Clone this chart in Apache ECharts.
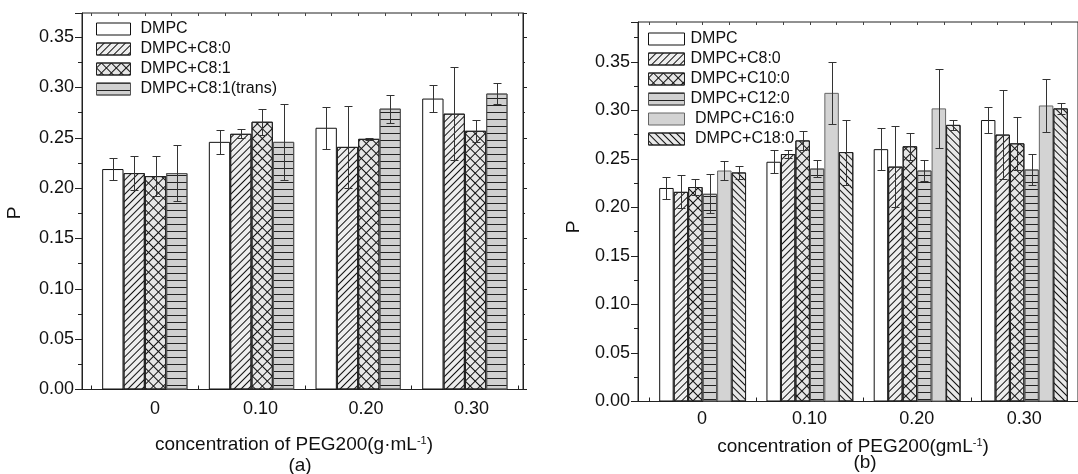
<!DOCTYPE html>
<html><head><meta charset="utf-8">
<script src="https://cdn.jsdelivr.net/npm/echarts@6/dist/echarts.min.js"></script>
<style>html,body{margin:0;padding:0;background:#fff}#c{width:1078px;height:474px}</style>
</head><body><div id="c"></div><script>
// ---------- data ----------
const categories = ['0', '0.10', '0.20', '0.30'];
const yTickStep = 0.05;

// panel (a)
const namesA = ['DMPC', 'DMPC+C8:0', 'DMPC+C8:1', 'DMPC+C8:1(trans)'];
const aDMPC      = [0.219, 0.246, 0.260, 0.289];
const aDMPCErr   = [0.011, 0.012, 0.021, 0.013];
const aC80       = [0.215, 0.254, 0.241, 0.274];
const aC80Err    = [0.017, 0.0045, 0.041, 0.046];
const aC81       = [0.212, 0.266, 0.249, 0.257];
const aC81Err    = [0.020, 0.013, 0.001, 0.011];
const aTrans     = [0.215, 0.246, 0.279, 0.294];
const aTransErr  = [0.028, 0.038, 0.014, 0.0105];

// panel (b)
const namesB = ['DMPC', 'DMPC+C8:0', 'DMPC+C10:0', 'DMPC+C12:0', ' DMPC+C16:0', ' DMPC+C18:0'];
const bDMPC      = [0.220, 0.247, 0.260, 0.290];
const bDMPCErr   = [0.011, 0.012, 0.022, 0.013];
const bC80       = [0.216, 0.255, 0.242, 0.275];
const bC80Err    = [0.017, 0.004, 0.042, 0.046];
const bC100      = [0.221, 0.269, 0.263, 0.266];
const bC100Err   = [0.0085, 0.010, 0.014, 0.027];
const bC120      = [0.214, 0.240, 0.238, 0.239];
const bC120Err   = [0.020, 0.009, 0.0105, 0.0155];
const bC160      = [0.238, 0.318, 0.302, 0.305];
const bC160Err   = [0.010, 0.032, 0.041, 0.0275];
const bC180      = [0.236, 0.257, 0.285, 0.302];
const bC180Err   = [0.0065, 0.0335, 0.0055, 0.006];

// ---------- styles ----------
const FONT = 'Liberation Sans, Arial, sans-serif';
const stWhite = {color: '#ffffff', borderColor: '#111', borderWidth: 1};
const stSlash = {color: '#eeeeee', borderColor: '#222', borderWidth: 1,
  decal: {symbol: 'rect', dashArrayX: [1, 0], dashArrayY: [1, 4], rotation: -Math.PI / 4, color: '#111'}};
const stBack = {color: '#e8e8e8', borderColor: '#222', borderWidth: 1,
  decal: {symbol: 'rect', dashArrayX: [1, 0], dashArrayY: [1, 4], rotation: Math.PI / 4, color: '#111'}};
const stCross = {color: '#e6e6e6', borderColor: '#222', borderWidth: 1,
  decal: {symbol: 'path://M3,0h1v3h3v1h-3v3h-1v-3h-3v-1h3z', symbolSize: 1, dashArrayX: [7, 0], dashArrayY: [7, 0], rotation: Math.PI / 4, color: '#111'}};
const stHoriz = {color: '#d0d0d0', borderColor: '#555', borderWidth: 1,
  decal: {symbol: 'rect', dashArrayX: [1, 0], dashArrayY: [1, 6], color: '#222'}};
const stGray = {color: '#d3d3d3', borderColor: '#666', borderWidth: 1};

const stylesA = [stWhite, stSlash, stCross, stHoriz];
const stylesB = [stWhite, stSlash, stCross, stHoriz, stGray, stBack];
const valsA = [aDMPC, aC80, aC81, aTrans];
const errsA = [aDMPCErr, aC80Err, aC81Err, aTransErr];
const valsB = [bDMPC, bC80, bC100, bC120, bC160, bC180];
const errsB = [bDMPCErr, bC80Err, bC100Err, bC120Err, bC160Err, bC180Err];

// ---------- layout ----------
const gapA = 0.2, gapB = 0.19;
const grids = [
  {left: 82, top: 13, width: 441, height: 376.5, show: true, borderColor: '#222', borderWidth: 1, backgroundColor: 'rgba(0,0,0,0)'},
  {left: 91.5, top: 13, width: 426.7, height: 376.5},
  {left: 102.25, top: 13, width: 422, height: 376.5},
  {left: 638, top: 22, width: 460, height: 379.5, show: true, borderColor: '#222', borderWidth: 1, backgroundColor: 'rgba(0,0,0,0)'},
  {left: 649, top: 22, width: 430, height: 379.5},
  {left: 648.3, top: 22, width: 459, height: 379.5}
];
const maxA = 0.374, maxB = 0.391;

function yLabelAxis(gi, max) {
  return {type: 'value', gridIndex: gi, min: 0, max: max, interval: yTickStep,
    axisLine: {show: true, lineStyle: {color: '#222'}},
    axisTick: {show: true, inside: false, length: 7, lineStyle: {color: '#222'}},
    minorTick: {show: true, splitNumber: 2, length: 4, lineStyle: {color: '#222'}},
    splitLine: {show: false},
    axisLabel: {show: true, margin: 8, fontSize: 18, color: '#111', fontFamily: FONT, showMaxLabel: false,
      formatter: v => v.toFixed(2)}};
}
function yRightAxis(gi, max, show) {
  return {type: 'value', gridIndex: gi, min: 0, max: max, interval: yTickStep, position: 'right', show: show,
    axisLine: {show: true, lineStyle: {color: '#222'}},
    axisTick: {show: true, inside: false, length: 4, lineStyle: {color: '#222'}},
    minorTick: {show: true, splitNumber: 2, length: 2, lineStyle: {color: '#222'}},
    splitLine: {show: false}, axisLabel: {show: false, showMaxLabel: false}};
}
function yHidden(gi, max) {
  return {type: 'value', gridIndex: gi, min: 0, max: max, show: false, splitLine: {show: false}};
}
const yAxes = [
  yLabelAxis(0, maxA), yRightAxis(0, maxA, true), yHidden(1, maxA), yHidden(2, maxA),
  yLabelAxis(3, maxB), yRightAxis(3, maxB, false), yHidden(4, maxB), yHidden(5, maxB)
];
function xBarAxis(gi) {
  return {type: 'category', gridIndex: gi, data: categories,
    axisLine: {show: false}, axisLabel: {show: false},
    axisTick: {show: true, inside: true, length: 4, alignWithLabel: false, lineStyle: {color: '#222'}},
    splitLine: {show: false}};
}
function xTopAxis(gi) {
  // decorative mirror ticks along the top frame (quarter-band spacing)
  return {type: 'value', gridIndex: gi, position: 'top', min: 0, max: 4, interval: 0.25,
    axisLine: {show: false}, axisLabel: {show: false}, splitLine: {show: false},
    axisTick: {show: true, inside: true, length: 3, lineStyle: {color: '#444'}}};
}
function xLabelAxis(gi, margin) {
  return {type: 'category', gridIndex: gi, data: categories,
    axisLine: {show: false}, axisTick: {show: false}, splitLine: {show: false},
    axisLabel: {show: true, fontSize: 18, color: '#111', fontFamily: FONT, margin: margin}};
}
const xAxes = [
  {type: 'value', gridIndex: 0, show: false},
  xBarAxis(1), xLabelAxis(2, 11),
  {type: 'value', gridIndex: 3, show: false},
  xBarAxis(4), xLabelAxis(5, 9),
  xTopAxis(1), xTopAxis(4)
];

function errSeries(xi, yi, vals, errs, k, n, gap) {
  return {type: 'custom', xAxisIndex: xi, yAxisIndex: yi, z: 5, silent: true,
    data: vals.map((v, i) => [i, v, errs[i]]),
    encode: {x: 0, y: 1},
    renderItem: (params, api) => {
      const i = api.value(0), v = api.value(1), e = api.value(2);
      const band = api.size([1, 0])[0];
      const bw = band * (1 - gap) / n;
      const cx = Math.round(api.coord([i, v])[0] + (k - (n - 1) / 2) * bw) + 0.5;
      const yt = Math.round(api.coord([i, v + e])[1]) + 0.5;
      const yb = Math.round(api.coord([i, v - e])[1]) + 0.5;
      const cap = 4;
      const ls = {stroke: '#333', lineWidth: 1};
      return {type: 'group', children: [
        {type: 'line', shape: {x1: cx, y1: yt, x2: cx, y2: yb}, style: ls},
        {type: 'line', shape: {x1: cx - cap, y1: yt, x2: cx + cap, y2: yt}, style: ls},
        {type: 'line', shape: {x1: cx - cap, y1: yb, x2: cx + cap, y2: yb}, style: ls}
      ]};
    }};
}

const series = [];
namesA.forEach((nm, k) => {
  series.push({type: 'bar', name: nm, xAxisIndex: 1, yAxisIndex: 2, data: valsA[k],
    barGap: '0%', barCategoryGap: (gapA * 100) + '%', itemStyle: stylesA[k], z: 2, silent: true});
});
namesA.forEach((nm, k) => series.push(errSeries(1, 2, valsA[k], errsA[k], k, namesA.length, gapA)));
namesB.forEach((nm, k) => {
  series.push({type: 'bar', name: nm, xAxisIndex: 4, yAxisIndex: 6, data: valsB[k],
    barGap: '0%', barCategoryGap: (gapB * 100) + '%', itemStyle: stylesB[k], z: 2, silent: true});
});
namesB.forEach((nm, k) => series.push(errSeries(4, 6, valsB[k], errsB[k], k, namesB.length, gapB)));

const legendCommon = {orient: 'vertical', itemWidth: 34, itemHeight: 12, itemGap: 4, selectedMode: false,
  textStyle: {fontSize: 16, lineHeight: 16, color: '#111', fontFamily: FONT, padding: [0, 0, 0, 5]}};
const legends = [
  Object.assign({}, legendCommon, {left: 91, top: 16,
    data: namesA.map((n, k) => ({name: n, icon: 'rect', itemStyle: stylesA[k]}))}),
  Object.assign({}, legendCommon, {left: 643, top: 26, itemWidth: 36,
    data: namesB.map((n, k) => ({name: n, icon: 'rect', itemStyle: stylesB[k]})),
    textStyle: Object.assign({}, legendCommon.textStyle, {padding: [0, 0, 0, 1]})})
];

const titleStyle = (txt, x, y, size) => ({type: 'text', x: x, y: y, silent: true,
  style: {text: txt, fontSize: size, fontFamily: FONT, fill: '#111', align: 'center', verticalAlign: 'middle',
    rich: {sup: {fontSize: 11, fontFamily: FONT, fill: '#111', padding: [0, 0, 9, 0]}, n: {fontSize: size, fontFamily: FONT, fill: '#111'}}}});

const graphics = [
  titleStyle('{n|concentration of PEG200(g·mL}{sup|-1}{n|)}', 294, 445, 19),
  titleStyle('(a)', 300, 466, 19),
  titleStyle('{n|concentration of PEG200(gmL}{sup|-1}{n|)}', 853, 447, 19),
  titleStyle('(b)', 865, 463, 19),
  {type: 'text', x: 15, y: 213, rotation: Math.PI / 2, silent: true,
    style: {text: 'P', fontSize: 19, fontFamily: FONT, fill: '#111', align: 'center', verticalAlign: 'middle'}},
  {type: 'text', x: 574, y: 227, rotation: Math.PI / 2, silent: true,
    style: {text: 'P', fontSize: 19, fontFamily: FONT, fill: '#111', align: 'center', verticalAlign: 'middle'}}
];

const chart = echarts.init(document.getElementById('c'), null, {renderer: 'canvas'});
chart.setOption({
  animation: false,
  backgroundColor: '#ffffff',
  grid: grids,
  xAxis: xAxes,
  yAxis: yAxes,
  legend: legends,
  series: series,
  graphic: graphics
});
</script></body></html>
